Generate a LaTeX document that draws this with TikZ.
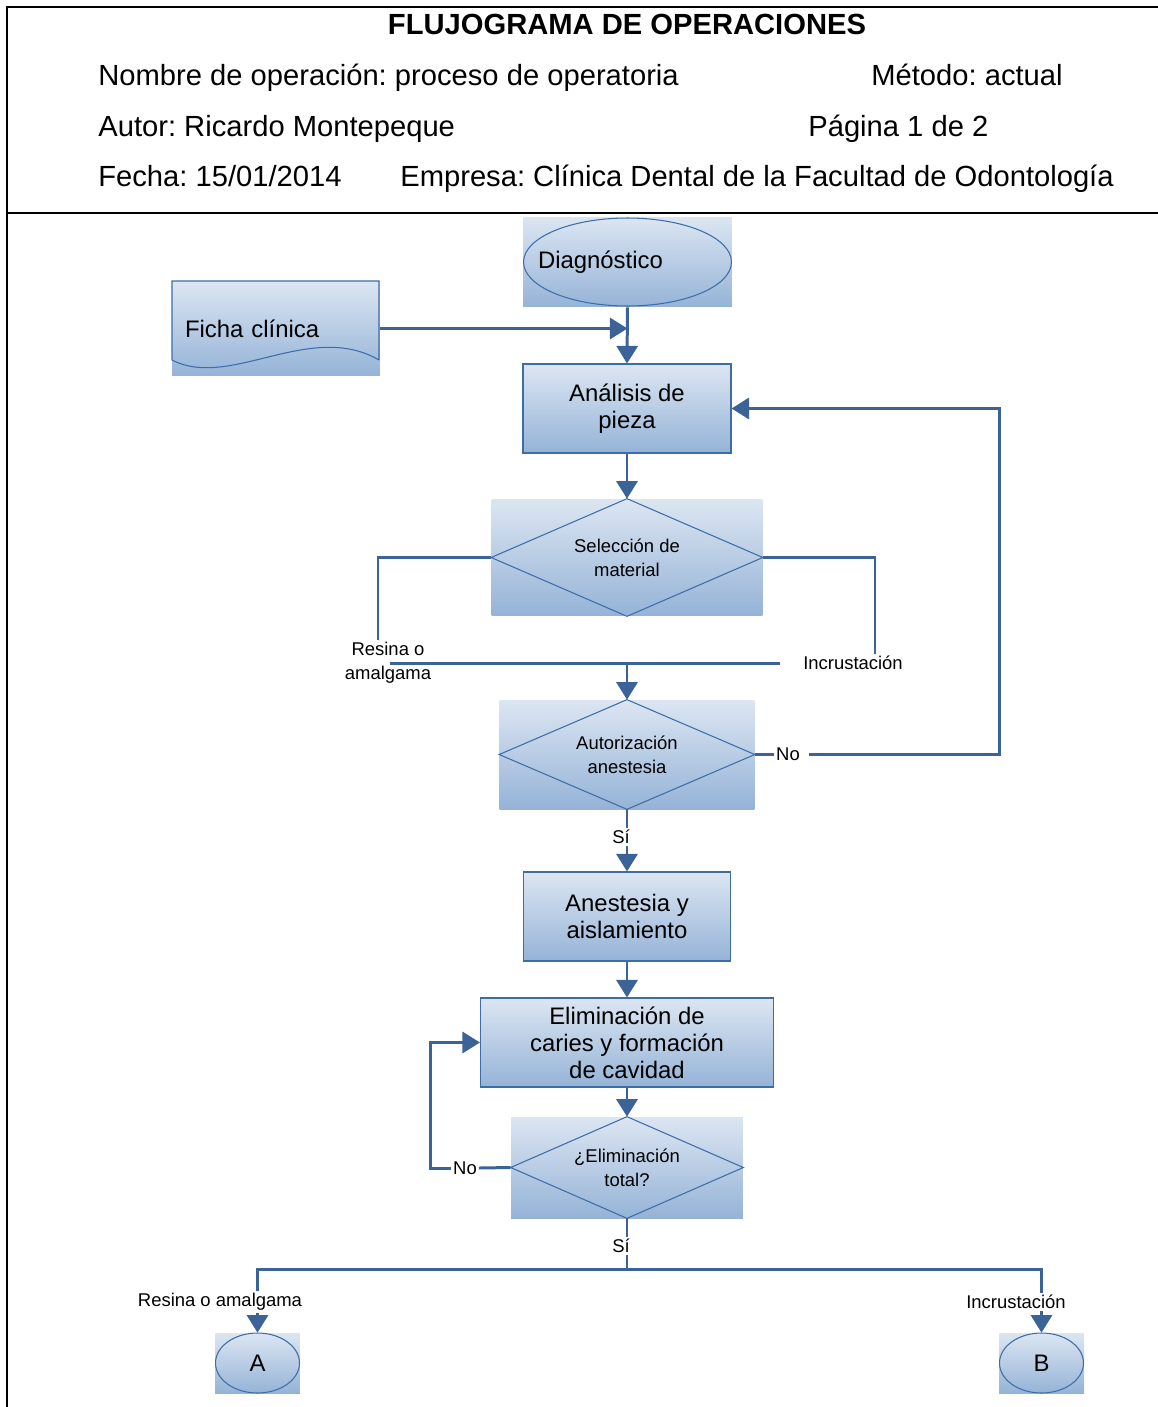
\documentclass[tikz,border=0pt]{standalone}
\usepackage{fontspec}
\setmainfont{Liberation Sans}
\usetikzlibrary{arrows.meta}
\frenchspacing

\definecolor{bgtop}{HTML}{DCE6F2}
\definecolor{bgbot}{HTML}{95B3D7}
\definecolor{outl}{HTML}{3E6DA6}
\definecolor{flowc}{HTML}{3B6397}

\begin{document}
\begin{tikzpicture}[x=0.02cm, y=-0.02cm,
    shd/.style={rectangle, inner sep=0pt, top color=bgtop, bottom color=bgbot,
      align=center, font=\fontsize{13.6}{15.3}\selectfont},
    proc/.style={shd, draw=outl, line width=0.6pt},
    dec/.style={shd, font=\fontsize{10.5}{13.6}\selectfont},
    outline/.style={draw=outl, line width=0.6pt},
    flow/.style={draw=flowc, line width=1.7pt},
    arr/.style={flow, -{Triangle[length=10pt,width=12pt]}},
    lbl/.style={inner sep=1pt, align=center, font=\fontsize{10.5}{13.6}\selectfont},
    hdr/.style={anchor=base west, inner sep=0pt, font=\fontsize{16.6}{20}\selectfont}]

    \useasboundingbox (0,0) rectangle (1158,1407);

    % Frame
    \draw[line width=1.1pt] (1158,7) -- (7,7) -- (7,1407);
    \draw[line width=1.1pt] (7,213) -- (1158,213);

    % Header
    \node[font=\bfseries\fontsize{16.6}{20}\selectfont] (title) at (627,24) {FLUJOGRAMA DE OPERACIONES};
    \node[hdr] (oper) at (98,85.5) {Nombre de operación: proceso de operatoria};
    \node[hdr] (metodo) at (871,85.5) {Método: actual};
    \node[hdr] (autor) at (98,136.5) {Autor: Ricardo Montepeque};
    \node[hdr] (pagina) at (808,136.5) {Página 1 de 2};
    \node[hdr] (fecha) at (98,186.5) {Fecha: 15/01/2014};
    \node[hdr] (empresa) at (400,186.5) {Empresa: Clínica Dental de la Facultad de Odontología};

    % Start and document
    \node[shd, minimum width=4.18cm, minimum height=1.8cm, text width=3.58cm,
      inner xsep=0.3cm, align=left] (diag) at (627.5,262) {Diagnóstico};
    \draw[outline] (diag.center) ellipse [x radius=2.08cm, y radius=0.88cm];

    \node[shd, minimum width=4.16cm, minimum height=1.9cm, text width=3.64cm,
      inner xsep=0.26cm, align=left] (ficha) at (276,328.5) {Ficha clínica};
    \draw[outline] (379,360) -- (379,281) -- (172,281) -- (172,360)
      .. controls (230,390) and (310,320) .. (379,360);

    % Process boxes
    \node[proc, minimum width=4.16cm, minimum height=1.78cm] (ana) at (627,408.5) {Análisis de\\pieza};
    \node[proc, minimum width=4.14cm, minimum height=1.78cm] (anes) at (627,916.5) {Anestesia y\\aislamiento};
    \node[proc, minimum width=5.86cm, minimum height=1.78cm] (elim) at (627,1042.5)
      {Eliminación de\\caries y formación\\de cavidad};

    % Decisions
    \node[dec, minimum width=5.42cm, minimum height=2.34cm] (sel) at (627,557.5) {Selección de\\material};
    \draw[outline] (sel.north) -- (sel.east) -- (sel.south) -- (sel.west) -- cycle;
    \node[dec, minimum width=5.1cm, minimum height=2.18cm] (aut) at (627,754.5) {Autorización\\anestesia};
    \draw[outline] (aut.north) -- (aut.east) -- (aut.south) -- (aut.west) -- cycle;
    \node[dec, minimum width=4.64cm, minimum height=2.02cm] (tot) at (627,1167.5) {¿Eliminación\\total?};
    \draw[outline] (tot.north) -- (tot.east) -- (tot.south) -- (tot.west) -- cycle;

    % Connectors
    \draw[arr] (ficha.east) -- (ficha.east -| diag.south);
    \draw[arr] (diag.south) -- (ana.north);
    \draw[arr] (ana.south) -- (sel.north);

    \node[lbl] (resA) at (388,663) {Resina o\\amalgama};
    \node[lbl] (incA) at (853,663) {Incrustación};
    \draw[flow] (sel.west) -| ([xshift=-0.2cm]resA.north);
    \draw[flow] (sel.east) -| ([xshift=0.44cm]incA.north);
    \draw[flow] ([xshift=0.04cm]resA.center) -- ([xshift=-0.42cm]incA.west);
    \draw[arr] (resA.center -| sel.south) -- (aut.north);

    \node[lbl] (noA) at (788,754.5) {No};
    \draw[flow] (aut.east) -- (noA.west);
    \draw[arr] ([xshift=0.14cm]noA.east) -| ([xshift=5.36cm]ana.east) -- (ana.east);

    \node[lbl] (siA) at (621,837) {Sí};
    \draw[flow] (aut.south) -- (aut.south |- siA.north);
    \draw[arr] (aut.south |- siA.south) -- (anes.north);
    \draw[arr] (anes.south) -- (elim.north);
    \draw[arr] (elim.south) -- (tot.north);

    \node[lbl] (noB) at (465,1168) {No};
    \draw[flow] (tot.west) -- (noB.east);
    \draw[arr] (noB.west) -| ([xshift=-1cm]elim.west) -- (elim.west);

    % Connectors A and B
    \node[shd, minimum width=1.7cm, minimum height=1.2cm] (A) at (257.5,1363) {A};
    \draw[outline] (A.center) ellipse [x radius=0.84cm, y radius=0.6cm];
    \node[shd, minimum width=1.7cm, minimum height=1.2cm] (B) at (1041.5,1363) {B};
    \draw[outline] (B.center) ellipse [x radius=0.84cm, y radius=0.6cm];

    \node[lbl] (siB) at (621,1246) {Sí};
    \node[lbl] (resB) at (220,1302) {Resina o amalgama};
    \node[lbl] (incB) at (1016,1302) {Incrustación};
    \coordinate (split) at (627,1269);
    \draw[flow] (tot.south) -- (tot.south |- siB.north);
    \draw[flow] (tot.south |- siB.south) -- (split);
    \draw[flow] (A.north |- resB.north) |- (split) -| (B.north |- incB.north);
    \draw[arr] (A.north |- resB.south) -- (A.north);
    \draw[arr] (B.north |- incB.south) -- (B.north);

\end{tikzpicture}
\end{document}
